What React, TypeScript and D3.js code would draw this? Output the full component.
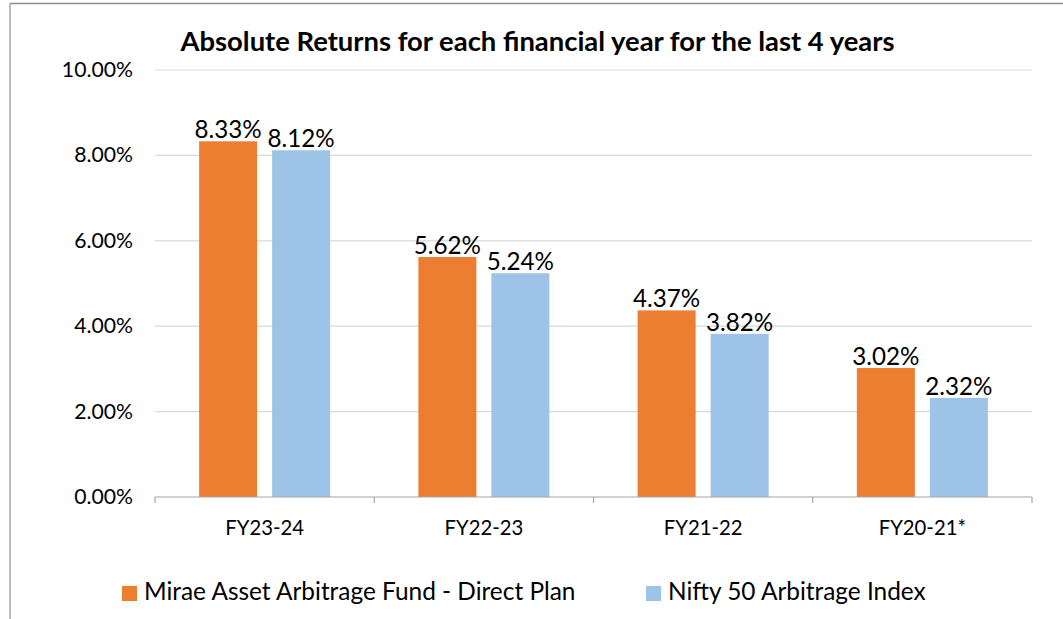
import React from "react";
import * as d3 from "d3";

const categories = ["FY23-24", "FY22-23", "FY21-22", "FY20-21*"];
const fundValues = [8.33, 5.62, 4.37, 3.02];
const indexValues = [8.12, 5.24, 3.82, 2.32];
const seriesNames = ["Mirae Asset Arbitrage Fund - Direct Plan", "Nifty 50 Arbitrage Index"];
const yTicks = [0, 2, 4, 6, 8, 10];
const title = "Absolute Returns for each financial year for the last 4 years";

const W = 1063;
const H = 619;
const FONT = "Lato, 'Open Sans', sans-serif";
const ORANGE = "#ED7D31";
const BLUE = "#9DC3E6";

export default function App() {
  const x0 = d3.scaleBand().domain(categories).range([155, 1032]).paddingInner(0).paddingOuter(0);
  const bw = x0.bandwidth();
  const barW = 58;
  const gap = 15;
  const outer = (bw - 2 * barW - gap) / 2;
  const y = d3.scaleLinear().domain([0, 10]).range([497, 70]);

  const series = [
    { name: seriesNames[0], values: fundValues, color: ORANGE },
    { name: seriesNames[1], values: indexValues, color: BLUE },
  ];

  return (
    <svg width={W} height={H} style={{ position: "absolute", left: 0, top: 0, display: "block" }}>
      <rect x={0} y={0} width={W} height={H} fill="#fff" />
      <line x1={10} y1={3.5} x2={W} y2={3.5} stroke="#8c8c8c" strokeWidth={1.5} />
      <line x1={10} y1={3} x2={10} y2={H} stroke="#a6a6a6" strokeWidth={1.5} />
      <text x={537.5} y={51} textAnchor="middle" fontFamily={FONT} fontWeight="bold" fontSize={27.4} fill="#000">
        {title}
      </text>
      {yTicks.map((t) => (
        <g key={t}>
          {t > 0 && (
            <line x1={155} x2={1032} y1={y(t)} y2={y(t)} stroke="#d9d9d9" strokeWidth={1.2} />
          )}
          <text x={133} y={y(t) + 7} textAnchor="end" fontFamily={FONT} fontSize={21.2} fill="#000">
            {d3.format(".2f")(t) + "%"}
          </text>
        </g>
      ))}
      {categories.map((c, i) => (
        <g key={c}>
          {series.map((s, j) => {
            const bx = (x0(c) as number) + outer + j * (barW + gap);
            const v = s.values[i];
            return (
              <g key={s.name}>
                <rect x={bx} y={y(v)} width={barW} height={y(0) - y(v)} fill={s.color} />
                <text x={bx + barW / 2} y={y(v) - 3} textAnchor="middle" fontFamily={FONT} fontSize={24.2} fill="#000">
                  {d3.format(".2f")(v) + "%"}
                </text>
              </g>
            );
          })}
          <text x={(x0(c) as number) + bw / 2} y={535} textAnchor="middle" fontFamily={FONT} fontSize={20.3} fill="#000">
            {c}
          </text>
        </g>
      ))}
      <line x1={155} x2={1032} y1={y(0)} y2={y(0)} stroke="#a6a6a6" strokeWidth={1.2} />
      {[0, 1, 2, 3, 4].map((k) => {
        const xx = 155 + k * bw;
        return <line key={k} x1={xx} x2={xx} y1={y(0)} y2={y(0) + 6} stroke="#a6a6a6" strokeWidth={1.2} />;
      })}
      {series.map((s, j) => {
        const lx = j === 0 ? 122 : 646;
        return (
          <g key={s.name}>
            <rect x={lx} y={586} width={15} height={15} fill={s.color} />
            <text x={lx + 22} y={600} fontFamily={FONT} fontSize={24.4} fill="#000">
              {s.name}
            </text>
          </g>
        );
      })}
    </svg>
  );
}
